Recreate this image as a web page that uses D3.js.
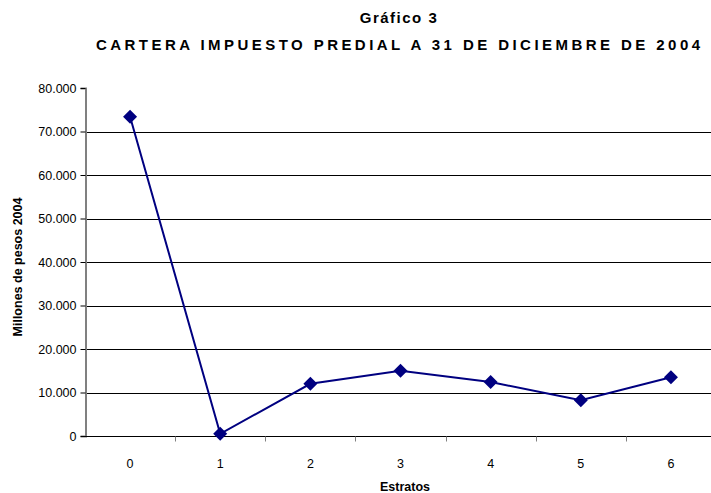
<!DOCTYPE html>
<html>
<head>
<meta charset="utf-8">
<script src="https://cdn.jsdelivr.net/npm/d3@7"></script>
<style>
  body { margin: 0; background: #fff; }
  svg { display: block; font-family: "Liberation Sans", Arial, sans-serif; }
</style>
</head>
<body>
<div id="chart"></div>
<script>
// estratos and cartera (millones de pesos 2004)
var estratos = ["0", "1", "2", "3", "4", "5", "6"]
var cartera = [73400, 500, 12000, 15000, 12400, 8200, 13500]
var yTicks = [0, 10000, 20000, 30000, 40000, 50000, 60000, 70000, 80000]

var w = 711
var h = 493
var plotLeft = 85, plotRight = 716, plotTop = 88, plotBottom = 436

var svg = d3.select('#chart').append('svg')
    .attr('width', w)
    .attr('height', h)

var x = d3.scaleBand().domain(estratos).range([plotLeft, plotRight])
var y = d3.scaleLinear().domain([0, 80000]).range([plotBottom, plotTop])

var fmt = function(d){ return d3.format(',')(d).replace(/,/g, '.') }

// gridlines
svg.selectAll('line.grid')
    .data(yTicks.filter(function(d){ return d > 0 && d < 80000 }))
    .enter()
    .append('line')
    .attr('class', 'grid')
    .attr('x1', plotLeft).attr('x2', w)
    .attr('y1', function(d){ return Math.round(y(d)) + 0.5 })
    .attr('y2', function(d){ return Math.round(y(d)) + 0.5 })
    .attr('stroke', '#000')
    .attr('stroke-width', 1)

// y axis
var yAxis = svg.append('g')
    .attr('transform', 'translate(' + (plotLeft + 0.5) + ',0)')
    .call(d3.axisLeft(y).tickValues(yTicks).tickFormat(fmt).tickSize(5).tickPadding(4))
yAxis.select('.domain').attr('stroke', '#808080').attr('stroke-width', 2)
yAxis.selectAll('.tick line').attr('stroke', '#000')
yAxis.selectAll('text').attr('font-size', 12.5).attr('fill', '#000')

// x axis
var xAxis = svg.append('g')
    .attr('transform', 'translate(0,' + (plotBottom + 0.5) + ')')
xAxis.append('line')
    .attr('x1', plotLeft).attr('x2', w)
    .attr('stroke', '#000')
xAxis.selectAll('line.xt')
    .data(estratos.slice(1))
    .enter()
    .append('line')
    .attr('class', 'xt')
    .attr('x1', function(d){ return Math.round(x(d)) + 0.5 })
    .attr('x2', function(d){ return Math.round(x(d)) + 0.5 })
    .attr('y1', 0).attr('y2', 5)
    .attr('stroke', '#808080')
xAxis.selectAll('text')
    .data(estratos)
    .enter()
    .append('text')
    .attr('x', function(d){ return x(d) + x.bandwidth() / 2 })
    .attr('y', 31)
    .attr('text-anchor', 'middle')
    .attr('font-size', 12.5)
    .attr('fill', '#000')
    .text(function(d){ return d })

// line
var line = d3.line()
    .x(function(d, i){ return x(estratos[i]) + x.bandwidth() / 2 })
    .y(function(d){ return y(d) })

svg.append('path')
    .datum(cartera)
    .attr('d', line)
    .attr('fill', 'none')
    .attr('stroke', '#000080')
    .attr('stroke-width', 2)

svg.selectAll('path.mark')
    .data(cartera)
    .enter()
    .append('path')
    .attr('class', 'mark')
    .attr('d', 'M0,-7L7,0L0,7L-7,0Z')
    .attr('transform', function(d, i){
        return 'translate(' + (x(estratos[i]) + x.bandwidth() / 2) + ',' + y(d) + ')'
    })
    .attr('fill', '#000080')

// titles
svg.append('text')
    .attr('x', 399).attr('y', 23)
    .attr('text-anchor', 'middle')
    .attr('font-size', 15).attr('font-weight', 'bold')
    .attr('letter-spacing', 1.5)
    .text('Gráfico 3')

svg.append('text')
    .attr('x', 96).attr('y', 50)
    .attr('font-size', 15).attr('font-weight', 'bold')
    .attr('textLength', 604).attr('lengthAdjust', 'spacing')
    .text('CARTERA IMPUESTO PREDIAL A 31 DE DICIEMBRE DE 2004')

svg.append('text')
    .attr('transform', 'translate(22,' + 267 + ') rotate(-90)')
    .attr('text-anchor', 'middle')
    .attr('font-size', 12.5).attr('font-weight', 'bold')
    .text('Millones de pesos 2004')

svg.append('text')
    .attr('x', 405).attr('y', 491)
    .attr('text-anchor', 'middle')
    .attr('font-size', 12.5).attr('font-weight', 'bold')
    .text('Estratos')
</script>
</body>
</html>
